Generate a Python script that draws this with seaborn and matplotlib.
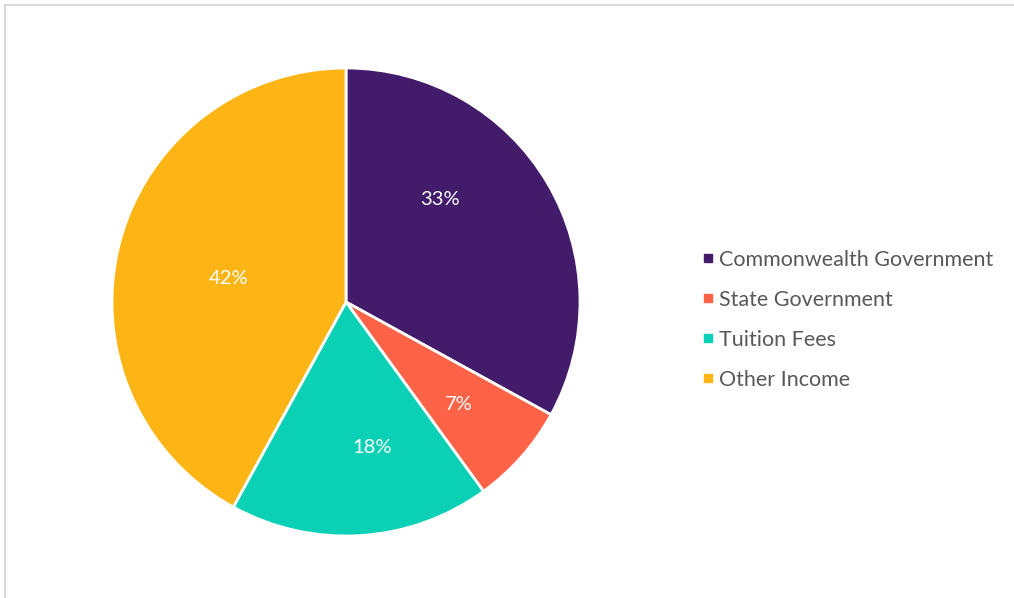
import matplotlib
matplotlib.use("Agg")
import matplotlib.pyplot as plt
import seaborn as sns
from matplotlib.lines import Line2D
from matplotlib.patches import Rectangle

# data
categories = ["Commonwealth Government", "State Government", "Tuition Fees", "Other Income"]
shares = [33, 7, 18, 42]
colors = ["#421C6A", "#FF6347", "#0AD1B5", "#FDB515"]
# where the percentage labels sit inside the pie (radius units), as in the original
label_xy = [(0.40, 0.44), (0.48, -0.44), (0.11, -0.62), (-0.50, 0.10)]

sns.set_theme(style="white")
plt.rcParams['font.family'] = ['Lato', 'DejaVu Sans']

W, H = 1014, 598
fig = plt.figure(figsize=(W / 100, H / 100), dpi=100)
fig.patch.set_facecolor("white")

# light frame (only top/left edges visible in the reference)
fig.patches.append(Rectangle((4.5 / W, -0.05), 1.2, 1.05 - 4.5 / H, transform=fig.transFigure,
                             fill=False, edgecolor="#d9d9d9", linewidth=1.5))

# pie axes: centre (346, 302), radius ~233 px
cx, cy, r = 346, 302, 234
ax = fig.add_axes([(cx - r) / W, (H - cy - r) / H, 2 * r / W, 2 * r / H])
wedges, texts, autotexts = ax.pie(
    shares, colors=colors, startangle=90, counterclock=False,
    autopct="%1.0f%%", pctdistance=0.6, radius=1,
    wedgeprops=dict(edgecolor="white", linewidth=2),
    textprops=dict(color="white", fontsize=14.5),
)
for t, xy in zip(autotexts, label_xy):
    t.set_position(xy)
ax.set_xlim(-1.0, 1.0)
ax.set_ylim(-1.0, 1.0)
ax.set_aspect("equal")
ax.axis("off")

handles = [Line2D([], [], marker="s", linestyle="", color=c, markersize=6) for c in colors]
leg = fig.legend(handles, categories, loc="center left",
                 bbox_to_anchor=(692 / W, 1 - 320 / H), frameon=False,
                 fontsize=15.5, labelspacing=0.93, handlelength=0.5,
                 handletextpad=0.25, borderpad=0)
for t in leg.get_texts():
    t.set_color("#595959")

fig.savefig("out.png", dpi=100, facecolor="white")
